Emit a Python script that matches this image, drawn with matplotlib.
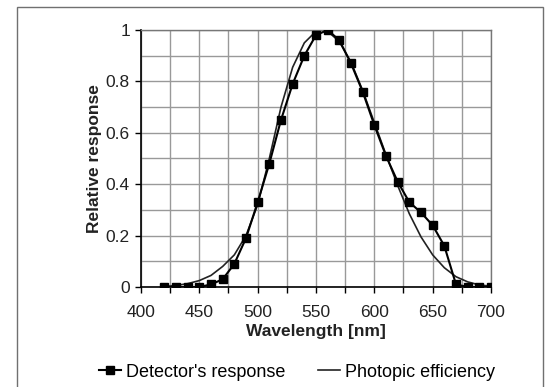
import matplotlib.pyplot as plt
from matplotlib.patches import Rectangle
import numpy as np

plt.rcParams['font.family'] = ['Liberation Sans', 'DejaVu Sans']

# detector's measured response (every 10 nm)
det_wl = [420, 430, 440, 450, 460, 470, 480, 490, 500, 510, 520, 530, 540, 550,
          560, 570, 580, 590, 600, 610, 620, 630, 640, 650, 660, 670, 680, 690, 700]
det_resp = [0, 0, 0, 0, 0.01, 0.03, 0.09, 0.19, 0.33, 0.48, 0.65, 0.79, 0.90, 0.98,
            1.0, 0.96, 0.87, 0.76, 0.63, 0.51, 0.41, 0.33, 0.29, 0.24, 0.16, 0.01, 0, 0, 0]

# photopic luminous efficiency curve
pho_wl = [420, 430, 440, 450, 460, 470, 480, 490, 500, 510, 520, 530, 540, 550, 555,
          560, 570, 580, 590, 600, 610, 620, 630, 640, 650, 660, 670, 680, 690, 700]
pho_eff = [0.002, 0.006, 0.013, 0.025, 0.045, 0.08, 0.125, 0.2, 0.32, 0.5, 0.7, 0.855,
           0.95, 0.995, 1.0, 0.995, 0.955, 0.875, 0.765, 0.64, 0.515, 0.395, 0.285,
           0.195, 0.125, 0.075, 0.04, 0.02, 0.008, 0.003]

fig = plt.figure(figsize=(5.45, 3.87), dpi=100)
ax = fig.add_axes([0.2587, 0.2584, 0.6422, 0.6641])

# outer frame
fig.patches.append(Rectangle((17 / 545, -0.05), 526 / 545, 1.05 - 7 / 387,
                             transform=fig.transFigure, fill=False,
                             edgecolor='#707070', linewidth=1.0))

ax.plot(det_wl, det_resp, color='black', lw=1.5, marker='s', markersize=6,
        label="Detector's response", zorder=3)
ax.plot(pho_wl, pho_eff, color='#222222', lw=1.2, label='Photopic efficiency', zorder=2)

ax.set_xlim(400, 700)
ax.set_ylim(0, 1)
ax.set_xticks(np.arange(400, 701, 50))
ax.set_xticks(np.arange(400, 701, 25), minor=True)
ax.set_yticks(np.arange(0, 1.01, 0.2))
ax.set_yticklabels(['0', '0.2', '0.4', '0.6', '0.8', '1'])
ax.set_yticks(np.arange(0, 1.01, 0.1), minor=True)
ax.grid(True, which='both', color='#999999', lw=1.0, zorder=0)
ax.set_axisbelow(True)

ax.tick_params(axis='both', which='major', direction='out', length=4, width=1,
               labelsize=12.5, colors='black')
ax.tick_params(axis='x', which='major', pad=9)
ax.tick_params(axis='y', which='major', pad=4)
ax.tick_params(axis='x', which='minor', direction='out', length=4, width=1)
ax.tick_params(axis='y', which='minor', length=0)
for lbl in ax.get_xticklabels() + ax.get_yticklabels():
    lbl.set_color('#222222')

for side in ['left', 'bottom']:
    ax.spines[side].set_color('black')
    ax.spines[side].set_linewidth(1.2)
for side in ['top', 'right']:
    ax.spines[side].set_color('#777777')
    ax.spines[side].set_linewidth(1.0)

ax.set_xlabel('Wavelength [nm]', fontsize=12.5, fontweight='bold', labelpad=3,
              color='#222222')
ax.set_ylabel('Relative response', fontsize=12.5, fontweight='bold', labelpad=3,
              color='#222222')

fig.legend(loc='center', bbox_to_anchor=(0.545, 0.038), ncol=2, frameon=False,
           fontsize=13, handlelength=1.2, handletextpad=0.3, columnspacing=1.8,
           markerscale=0.9)

fig.savefig('out.png', dpi=100)
